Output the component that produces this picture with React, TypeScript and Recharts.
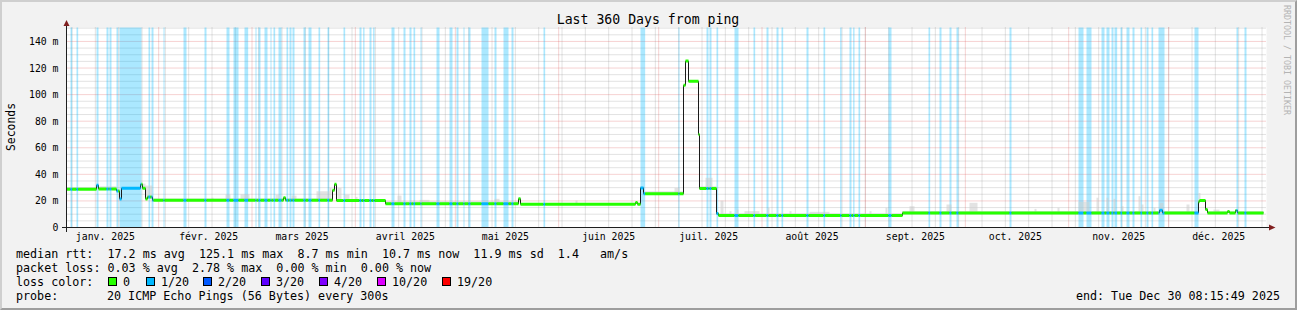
import React from 'react';
import { ComposedChart, Line, XAxis, YAxis, CartesianGrid, ReferenceArea } from 'recharts';

const MONO = '"DejaVu Sans Mono", monospace';

// x axis is in days since Sat Jan 4 08:15:49 2025 (360 days before "end")
const START = Date.UTC(2025, 0, 4, 8, 15, 49);
const dayOf = (m: number, d: number) => (Date.UTC(2025, m, d) - START) / 86400000;
const END_DAY = 359.1;

const monthLabels = [
  'janv. 2025', 'févr. 2025', 'mars 2025', 'avril 2025', 'mai 2025', 'juin 2025',
  'juil. 2025', 'août 2025', 'sept. 2025', 'oct. 2025', 'nov. 2025', 'déc. 2025',
];
// rrdtool puts the month label on the 16th, major grid on the 1st, minor grid on Mondays
const monthTicks = monthLabels.map((_, i) => dayOf(i, 16));
const monthStarts = monthLabels.slice(1).map((_, i) => dayOf(i + 1, 1));
const weekStarts: number[] = [];
for (let d = dayOf(0, 6); d < 360; d += 7) weekStarts.push(d);

const yTicks = [0, 20, 40, 60, 80, 100, 120, 140];
const yMinor = [5, 10, 15, 25, 30, 35, 45, 50, 55, 65, 70, 75, 85, 90, 95, 105, 110, 115, 125, 130, 135, 145, 150];

// median rtt (ms), step function: [start day, value]
const medianSteps: [number, number][] = [
  [0, 28.8], [9.0, 31.8], [9.6, 29.0], [15.0, 27.5], [15.9, 21.5], [16.5, 29.5],
  [22.2, 32.5], [22.8, 29.5], [23.7, 21.5], [24.3, 23.0], [25.8, 20.5],
  [65.1, 22.4], [65.7, 20.5], [79.8, 28.0], [80.4, 32.5], [81.0, 20.3],
  [95.7, 17.8], [135.6, 21.6], [136.2, 17.5], [170.7, 18.8], [171.3, 17.5],
  [172.2, 29.8], [173.1, 25.4], [185.1, 107], [185.7, 125.2], [186.6, 110],
  [189.6, 70], [189.9, 29.3], [195.0, 10.5], [195.6, 9.0], [250.8, 11.0],
  [327.9, 13.0], [328.8, 11.0], [339.6, 19.3], [339.9, 20.3], [341.7, 13.5],
  [342.3, 11.0], [348.3, 12.0], [348.9, 11.0], [350.7, 12.8], [351.3, 11.0],
];

// periods with packet loss (1/20): [from day, to day]
const lossBands: [number, number][] = [
  [1.2, 1.7], [3.0, 3.5], [9.0, 9.6], [12.0, 12.6], [12.9, 13.5], [15.0, 15.5],
  [15.9, 22.5], [24.6, 25.1], [25.5, 26.1], [29.1, 29.4], [35.1, 36.0], [41.4, 42.0],
  [48.0, 48.9], [50.1, 51.6], [53.4, 54.5], [56.7, 57.0], [57.6, 58.2], [59.4, 60.3],
  [61.2, 61.5], [62.1, 62.6], [63.6, 64.5], [66.0, 66.5], [66.9, 67.5], [67.8, 68.4],
  [71.1, 71.7], [72.6, 73.5], [75.6, 76.1], [78.3, 78.8], [83.1, 83.6], [87.9, 88.5],
  [89.0, 89.4], [90.9, 91.5], [92.0, 92.4], [97.5, 98.4], [101.1, 101.7], [102.9, 103.5],
  [104.1, 104.6], [106.2, 106.5], [111.0, 111.9], [114.9, 115.8], [117.0, 117.6],
  [119.1, 119.4], [120.6, 121.2], [124.5, 126.6], [128.4, 129.0], [131.1, 132.6],
  [133.5, 134.1], [143.1, 143.6], [172.2, 173.6], [183.6, 183.9], [192.0, 192.6],
  [192.9, 193.5], [195.0, 195.5], [200.4, 201.6], [206.1, 206.6], [210.0, 210.6],
  [213.0, 213.6], [214.5, 215.0], [222.0, 222.6], [227.1, 227.6], [232.1, 232.5],
  [234.9, 235.5], [236.0, 236.4], [237.6, 238.1], [246.6, 247.5], [258.6, 259.1],
  [261.9, 262.5], [264.9, 265.5], [267.0, 267.6], [282.9, 283.5], [303.6, 305.1],
  [306.0, 307.5], [310.5, 311.4], [312.0, 312.9], [313.5, 314.1], [314.4, 315.2],
  [316.2, 316.7], [318.0, 318.9], [319.8, 320.4], [322.2, 322.7], [324.0, 324.6],
  [325.5, 326.0], [327.6, 329.4], [338.4, 339.6], [351.0, 351.5], [353.4, 354.0],
];

// smoke (spread of the pings above the median): [from day, to day, top ms]
const smoke: [number, number, number][] = [
  [0, 9.0, 30.3], [9.9, 15.0, 31.0], [22.8, 23.7, 33.0], [23.7, 25.8, 31.6],
  [25.8, 65.1, 21.8], [43.5, 44.1, 22.4], [47.7, 49.2, 24.8], [52.2, 54.9, 25.0],
  [62.7, 63.9, 24.8], [66.0, 79.8, 21.8], [67.5, 69.0, 24.0], [75.0, 78.9, 27.3],
  [78.9, 79.5, 29.8], [81.0, 95.7, 21.5], [81.3, 82.5, 29.8], [83.4, 84.9, 24.8],
  [86.7, 87.3, 23.0], [95.7, 135.6, 19.8], [99.3, 100.5, 24.0], [105.9, 108.9, 20.8],
  [128.4, 129.9, 21.6], [152.7, 153.3, 20.3], [173.4, 185.1, 27.3], [182.4, 183.9, 29.8],
  [189.9, 195.0, 31.0], [191.7, 193.8, 37.4], [195.6, 250.8, 10.8], [196.2, 197.1, 20.3],
  [198.9, 199.5, 12.3], [201.0, 201.6, 13.5], [203.4, 207.9, 12.3], [210.3, 210.9, 14.8],
  [216.9, 217.5, 12.3], [222.9, 228.9, 11.8], [240.9, 241.5, 12.3], [245.7, 246.3, 14.8],
  [250.8, 339.6, 12.5], [252.9, 254.4, 16.0], [264.0, 265.5, 17.3], [270.9, 273.3, 18.6],
  [290.4, 291.0, 14.0], [297.3, 297.9, 14.8], [303.6, 306.9, 19.3], [309.0, 309.6, 22.4],
  [312.0, 312.6, 22.4], [314.1, 314.7, 21.6], [316.5, 317.1, 16.0], [321.6, 322.2, 23.6],
  [322.5, 323.1, 17.3], [326.1, 326.7, 14.8], [327.9, 329.1, 18.6], [336.0, 336.9, 17.3],
  [339.6, 340.2, 26.0], [341.1, 341.7, 20.3], [342.3, 359.1, 12.3], [344.1, 345.9, 13.5],
];

const lossColors = ['#26ff00', '#00b8ff', '#0059ff', '#5e00ff', '#7e00ff', '#dd00ff', '#ff0000'];
const lossLabels = ['0', '1/20', '2/20', '3/20', '4/20', '10/20', '19/20'];

const inLoss = (d: number) => lossBands.some(([a, b]) => d >= a && d < b);
const medianMin = (a: number, b: number) => {
  let v = medianSteps[0][1];
  for (const [s, m] of medianSteps) if (s <= a) v = m;
  for (const [s, m] of medianSteps) if (s > a && s < b) v = Math.min(v, m);
  return v;
};

const blackData = [
  ...medianSteps.map(([d, v]) => ({ d, v })),
  { d: END_DAY, v: medianSteps[medianSteps.length - 1][1] },
];

// median pieces coloured by loss
const colorSegs: { a: number; b: number; v: number; color: string }[] = [];
medianSteps.forEach(([s, v], i) => {
  const e = i + 1 < medianSteps.length ? medianSteps[i + 1][0] : END_DAY;
  const cuts = [s, ...lossBands.flat().filter((c) => c > s && c < e).sort((x, y) => x - y), e];
  for (let k = 0; k < cuts.length - 1; k++) {
    const a = cuts[k];
    const b = cuts[k + 1];
    colorSegs.push({ a, b, v, color: inLoss((a + b) / 2) ? lossColors[1] : lossColors[0] });
  }
});

const textStyle = { fontFamily: MONO, fill: '#000', whiteSpace: 'pre' as const };

export default function App() {
  return (
    <div
      style={{
        position: 'absolute', left: 0, top: 0, width: 1297, height: 310, boxSizing: 'border-box',
        background: '#f2f2f2', borderTop: '2px solid #cfcfcf', borderLeft: '2px solid #cfcfcf',
        borderRight: '2px solid #9e9e9e', borderBottom: '2px solid #9e9e9e',
      }}
    >
      <div style={{ position: 'absolute', left: -2, top: -2 }}>
        <ComposedChart width={1297} height={310} margin={{ top: 27.5, right: 30.5, bottom: 52.5, left: 6.5 }}>
          <CartesianGrid
            fill="#ffffff"
            stroke="#8f8f8f"
            strokeOpacity={0.5}
            strokeDasharray="1 1"
            horizontalValues={yMinor}
            verticalValues={weekStarts}
          />
          <CartesianGrid
            stroke="#de4f4f"
            strokeOpacity={0.5}
            strokeDasharray="1 1"
            horizontalValues={yTicks.slice(1)}
            verticalValues={monthStarts}
          />
          <XAxis
            dataKey="d"
            type="number"
            domain={[0, 360]}
            allowDataOverflow
            ticks={monthTicks}
            interval={0}
            tickFormatter={(v: number) => monthLabels[monthTicks.indexOf(v)]}
            tick={{ fontFamily: MONO, fontSize: 9.8, fill: '#000' }}
            tickLine={false}
            tickSize={0}
            tickMargin={6}
            height={30}
            axisLine={{ stroke: '#1f1f1f' }}
          />
          <YAxis
            type="number"
            domain={[0, 150.5]}
            allowDataOverflow
            ticks={yTicks}
            interval={0}
            tickFormatter={(v: number) => (v === 0 ? '0' : `${v} m`)}
            tick={{ fontFamily: MONO, fontSize: 9.8, fill: '#000' }}
            tickLine={false}
            tickSize={0}
            tickMargin={8}
            width={60}
            axisLine={{ stroke: '#1f1f1f' }}
          />
          {lossBands.map(([a, b], i) => (
            <ReferenceArea key={`loss-${i}`} x1={a} x2={b} fill="#00b8ff" fillOpacity={0.33} stroke="none" />
          ))}
          {smoke.map(([a, b, top], i) => (
            <ReferenceArea
              key={`smoke-${i}`}
              x1={a}
              x2={b}
              y1={medianMin(a, b)}
              y2={top}
              fill="#cccccc"
              fillOpacity={0.55}
              stroke="none"
            />
          ))}
          <Line
            data={blackData}
            dataKey="v"
            type="stepAfter"
            stroke="#1a1a1a"
            strokeWidth={1}
            dot={false}
            activeDot={false}
            isAnimationActive={false}
          />
          {colorSegs.map((s, i) => (
            <Line
              key={`seg-${i}`}
              data={[{ d: s.a, v: s.v }, { d: s.b, v: s.v }]}
              dataKey="v"
              stroke={s.color}
              strokeWidth={3}
              strokeLinecap="butt"
              dot={false}
              activeDot={false}
              isAnimationActive={false}
            />
          ))}
        </ComposedChart>
      </div>
      <svg width={1297} height={310} style={{ position: 'absolute', left: -2, top: -2, pointerEvents: 'none' }}>
        <text x={648} y={23.5} textAnchor="middle" fontSize={13.2} style={textStyle}>
          Last 360 Days from ping
        </text>
        <text transform="translate(14.5,127) rotate(-90)" textAnchor="middle" fontSize={11.4} style={textStyle}>
          Seconds
        </text>
        <text
          transform="translate(1284,5) rotate(90)"
          fontSize={8.3}
          style={{ ...textStyle, fill: '#b4b4b4' }}
        >
          RRDTOOL / TOBI OETIKER
        </text>
        {/* axis extensions and arrows */}
        <line x1={62} y1={227.5} x2={1270} y2={227.5} stroke="#1f1f1f" />
        <line x1={66.5} y1={232} x2={66.5} y2={24} stroke="#1f1f1f" />
        <polygon points="63.5,26 69.5,26 66.5,20" fill="#801f1f" />
        <polygon points="1269,224.5 1269,230.5 1275.5,227.5" fill="#801f1f" />
        {/* legend */}
        <text x={16} y={258} fontSize={11.7} style={textStyle}>
          {'median rtt:  17.2 ms avg  125.1 ms max  8.7 ms min  10.7 ms now  11.9 ms sd  1.4   am/s'}
        </text>
        <text x={16} y={272} fontSize={11.7} style={textStyle}>
          {'packet loss: 0.03 % avg  2.78 % max  0.00 % min  0.00 % now'}
        </text>
        <text x={16} y={286} fontSize={11.7} style={textStyle}>
          loss color:
        </text>
        {lossLabels.map((l, i) => {
          const sx = [108, 146, 203, 261, 319, 377, 442][i];
          return (
            <g key={l}>
              <rect x={sx + 0.5} y={277.5} width={8} height={8} fill={lossColors[i]} stroke="#000" />
              <text x={sx + 15} y={286} fontSize={11.7} style={textStyle}>
                {l}
              </text>
            </g>
          );
        })}
        <text x={16} y={300} fontSize={11.7} style={textStyle}>
          probe:
        </text>
        <text x={107} y={300} fontSize={11.7} style={textStyle}>
          20 ICMP Echo Pings (56 Bytes) every 300s
        </text>
        <text x={1280} y={300} textAnchor="end" fontSize={11.7} style={textStyle}>
          end: Tue Dec 30 08:15:49 2025
        </text>
      </svg>
    </div>
  );
}
